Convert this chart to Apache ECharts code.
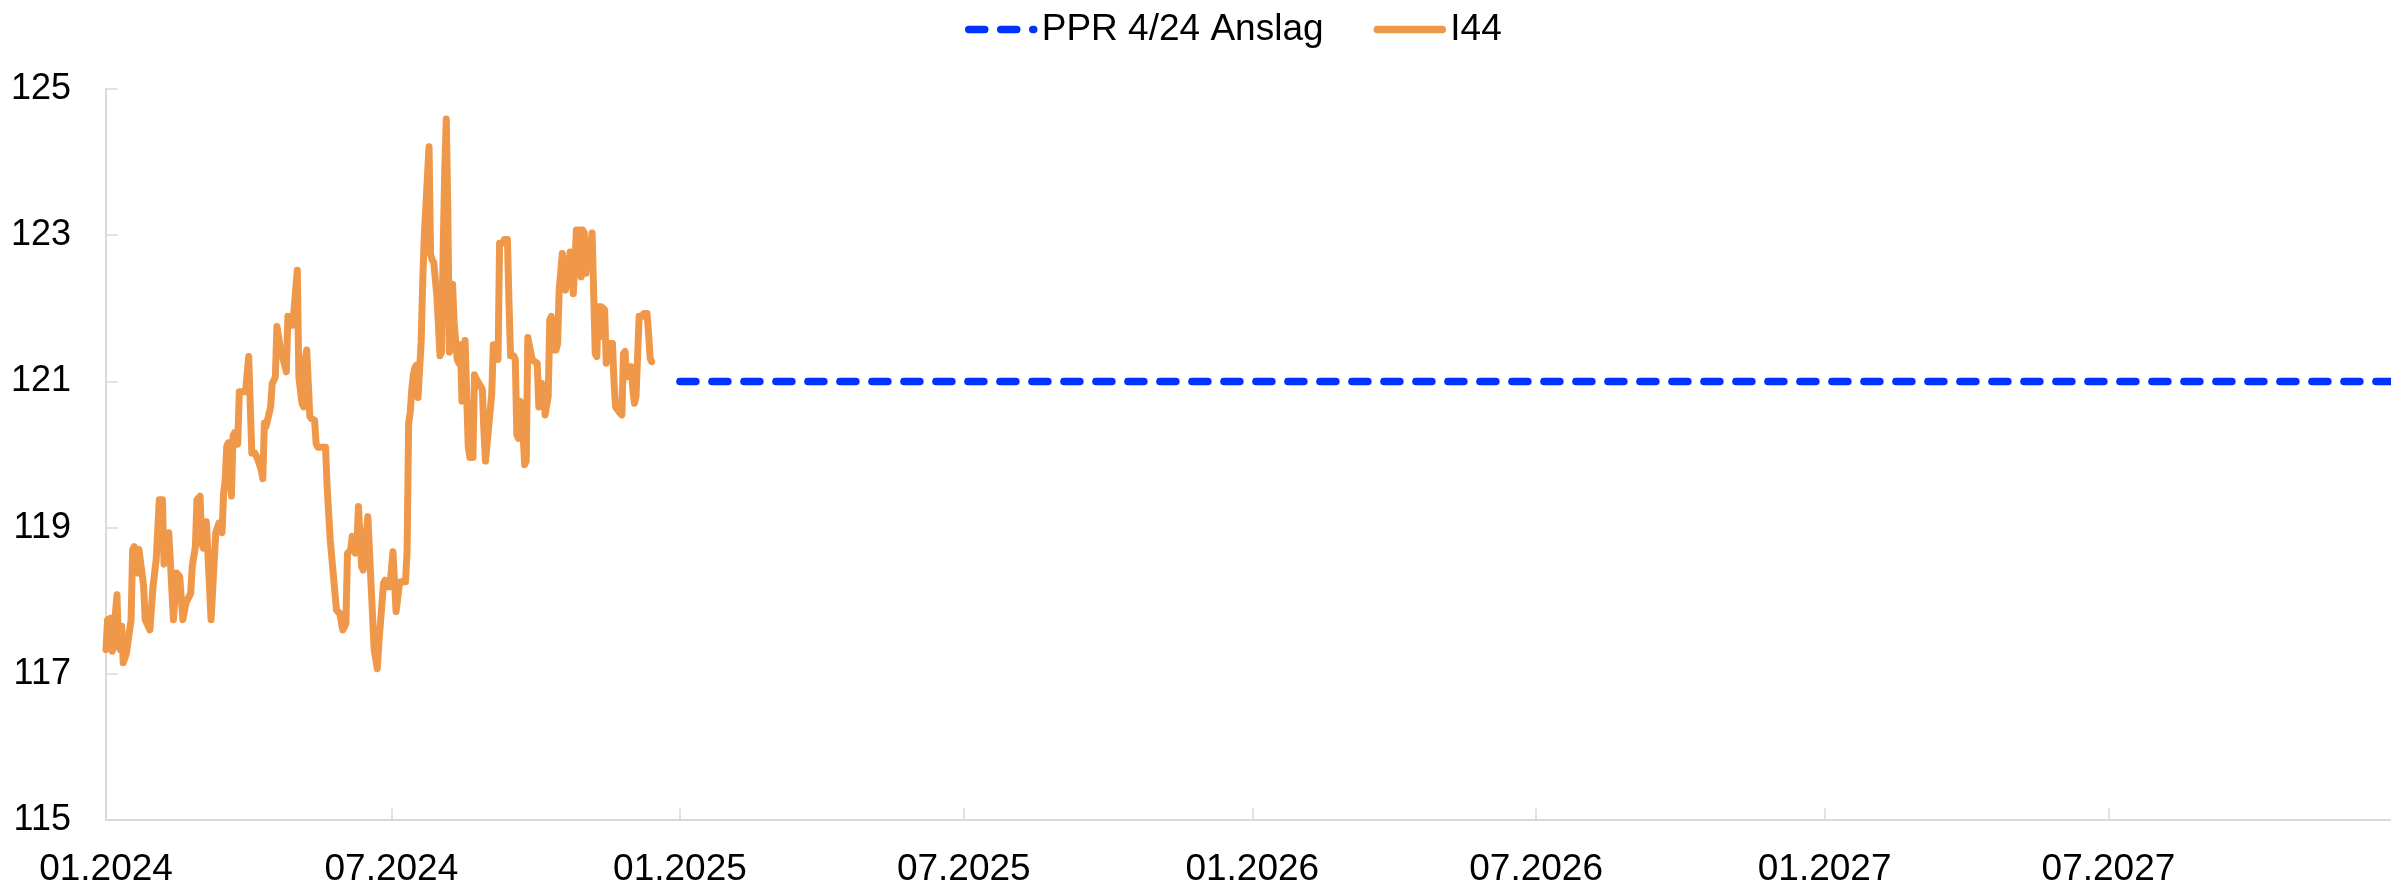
<!DOCTYPE html>
<html>
<head>
<meta charset="utf-8">
<script src="https://cdn.jsdelivr.net/npm/echarts@6/dist/echarts.min.js"></script>
<style>
html, body { margin: 0; padding: 0; background: #fff; }
#main { width: 2391px; height: 887px; }
</style>
</head>
<body>
<div id="main"></div>
<script>
// x-axis tick / label positions (01 and 07 each year)
var tickDates = ['2024-01-01', '2024-07-01', '2025-01-01', '2025-07-01',
                 '2026-01-01', '2026-07-01', '2027-01-01', '2027-07-01'];
var yTicks = [115, 117, 119, 121, 123, 125];

// I44, days counted from 1 January 2024
var i44Days = [
  0, 1, 3, 4, 5, 7, 8, 9, 10, 11,
  13, 16, 17, 18, 20, 21, 22, 24, 25, 28,
  30, 32, 34, 36, 37, 38, 40, 41, 43, 44,
  45, 47, 49, 50, 51, 54, 55, 57, 58, 60,
  61, 62, 64, 65, 67, 68, 70, 72, 74, 75,
  76, 77, 78, 80, 81, 82, 84, 85, 87, 89,
  91, 93, 95, 97, 99, 100, 101, 102, 103, 105,
  106, 108, 109, 110, 111, 112, 115, 116, 117, 119,
  120, 121, 122, 123, 125, 126, 127, 128, 129, 130,
  131, 133, 134, 135, 140, 141, 142, 143, 147, 149,
  150, 151, 152, 153, 154, 156, 157, 158, 159, 160,
  161, 162, 163, 164, 167, 168, 169, 171, 173, 174,
  175, 176, 177, 178, 179, 181, 183, 184, 185, 187,
  188, 191, 192, 193, 194, 195, 196, 197, 198, 199,
  200, 201, 202, 203, 204, 206, 207, 208, 209, 211,
  213, 214, 215, 216, 217, 218, 219, 220, 221, 222,
  224, 225, 226, 227, 228, 229, 231, 232, 234, 235,
  236, 240, 241, 242, 244, 246, 247, 248, 250, 251,
  253, 254, 256, 257, 258, 260, 261, 262, 263, 264,
  265, 267, 268, 269, 271, 272, 275, 276, 277, 278,
  279, 280, 282, 283, 284, 285, 287, 288, 289, 291,
  292, 293, 295, 296, 297, 298, 299, 300, 302, 303,
  304, 305, 306, 307, 309, 310, 311, 312, 313, 314,
  315, 316, 318, 319, 320, 321, 323, 324, 325, 327,
  329, 330, 331, 332, 334, 335, 336, 337, 338, 340,
  342, 343, 345, 346, 347, 348
];
var i44Values = [
  117.33, 117.74, 117.76, 117.31, 117.33, 118.08, 117.37, 117.33, 117.65, 117.15,
  117.28, 117.74, 118.70, 118.74, 118.38, 118.70, 118.72, 118.20, 117.74, 117.60,
  118.20, 118.56, 119.38, 119.38, 118.50, 118.54, 118.93, 118.56, 117.74, 117.74,
  118.38, 118.33, 117.74, 117.74, 117.97, 118.10, 118.47, 118.74, 119.38, 119.43,
  118.79, 118.72, 119.08, 119.06, 117.74, 117.72, 118.93, 119.06, 118.93, 119.47,
  119.65, 120.11, 120.16, 119.43, 120.25, 120.30, 120.14, 120.86, 120.86, 120.86,
  121.34, 120.02, 120.02, 119.92, 119.79, 119.67, 120.43, 120.38, 120.47, 120.65,
  120.97, 121.06, 121.75, 121.75, 121.48, 121.48, 121.13, 121.89, 121.91, 121.77,
  122.00, 122.02, 122.52, 121.06, 120.70, 120.65, 121.29, 121.43, 121.43, 120.52,
  120.49, 120.47, 120.15, 120.10, 120.10, 119.56, 119.54, 118.83, 117.87, 117.83,
  117.83, 117.60, 117.64, 117.69, 118.65, 118.69, 118.88, 118.88, 118.65, 118.78,
  119.29, 119.29, 118.47, 118.42, 119.15, 119.15, 118.24, 117.33, 117.07, 117.42,
  117.69, 117.71, 118.24, 118.28, 118.19, 118.19, 118.67, 118.67, 117.85, 118.21,
  118.26, 118.26, 118.67, 120.42, 120.58, 120.89, 121.09, 121.19, 121.22, 120.78,
  120.78, 121.55, 122.38, 123.00, 123.00, 124.21, 122.74, 122.66, 122.63, 122.17,
  121.35, 121.40, 122.79, 123.87, 124.59, 123.31, 121.40, 121.40, 122.33, 121.81,
  121.30, 121.25, 121.50, 120.73, 120.73, 121.56, 120.11, 119.96, 119.96, 121.09,
  121.04, 120.89, 120.32, 119.91, 120.37, 120.83, 121.50, 121.45, 121.30, 122.89,
  122.89, 122.94, 122.94, 122.07, 121.35, 121.35, 121.30, 120.27, 120.22, 120.73,
  120.68, 119.86, 119.91, 121.60, 121.38, 121.29, 121.25, 120.65, 120.65, 120.97,
  120.88, 120.54, 120.79, 121.84, 121.89, 121.43, 121.43, 121.52, 122.25, 122.75,
  122.30, 122.25, 122.57, 122.77, 122.52, 122.20, 122.18, 123.07, 123.07, 122.43,
  123.07, 123.03, 122.48, 122.91, 122.84, 123.03, 123.03, 121.38, 121.34, 122.02,
  121.61, 122.02, 121.98, 121.25, 121.25, 121.52, 121.52, 120.97, 120.65, 120.59,
  120.54, 121.38, 121.41, 121.06, 121.16, 121.20, 120.88, 120.70, 120.79, 121.89,
  121.89, 121.93, 121.93, 121.66, 121.32, 121.27
];

// PPR 4/24 forecast
var pprDates = ['2025-01-01', '2028-01-01'];
var pprValues = [121, 121];

var FONT = 'Liberation Sans, Arial, sans-serif';

function utc(s) {
    var p = s.split('-');
    return Date.UTC(+p[0], +p[1] - 1, +p[2]);
}
function pad(n) { return n < 10 ? '0' + n : '' + n; }

var i44Data = [];
for (var i = 0; i < Math.min(i44Days.length, i44Values.length); i++) {
    i44Data.push([Date.UTC(2024, 0, 1 + i44Days[i]), i44Values[i]]);
}
var pprData = pprDates.map(function (d, i) { return [utc(d), pprValues[i]]; });
var ticks = tickDates.map(utc);

var chart = echarts.init(document.getElementById('main'));

var option = {
    backgroundColor: '#fff',
    animation: false,
    textStyle: { fontFamily: FONT },
    legend: {
        top: 6,
        left: 960,
        itemWidth: 65,
        itemHeight: 14,
        itemGap: 50,
        lineStyle: { width: 7.5 },
        itemStyle: { opacity: 0 },   // line only, no marker in the icon
        textStyle: { fontSize: 37, color: '#000', fontFamily: FONT, padding: [0, 0, 0, 3] },
        data: ['PPR 4/24 Anslag', 'I44']
    },
    grid: {
        left: 106,
        right: -6,
        top: 89,
        bottom: 67,
        outerBoundsMode: 'none'
    },
    // timestamps on a plain value axis so the 6-month ticks sit exactly on the 1st
    xAxis: {
        type: 'value',
        min: utc('2024-01-01'),
        max: utc('2028-01-01'),
        axisLine: { lineStyle: { color: '#d9d9d9', width: 2 } },
        axisTick: {
            inside: true, length: 12, customValues: ticks,
            lineStyle: { color: '#d9d9d9', width: 1.5 }
        },
        axisLabel: {
            customValues: ticks,
            fontSize: 37,
            color: '#000',
            fontFamily: FONT,
            margin: 31,
            hideOverlap: false,
            showMinLabel: true,
            formatter: function (val) {
                var d = new Date(val);
                return pad(d.getUTCMonth() + 1) + '.' + d.getUTCFullYear();
            }
        },
        splitLine: { show: false }
    },
    yAxis: {
        type: 'value',
        min: yTicks[0],
        max: yTicks[yTicks.length - 1],
        interval: 2,
        axisLine: { show: true, lineStyle: { color: '#d9d9d9', width: 2 } },
        axisTick: { show: true, inside: true, length: 12, lineStyle: { color: '#d9d9d9', width: 1.5 } },
        axisLabel: { fontSize: 36, color: '#000', fontFamily: FONT, margin: 35 },
        splitLine: { show: false }
    },
    series: [
        {
            name: 'PPR 4/24 Anslag',
            type: 'line',
            data: pprData,
            symbol: 'none',
            lineStyle: { color: '#0033ff', width: 7.5, type: [16, 16], cap: 'round' },
            itemStyle: { color: '#0033ff' }
        },
        {
            name: 'I44',
            type: 'line',
            data: i44Data,
            symbol: 'none',
            lineStyle: { color: '#ef984a', width: 7, join: 'round', cap: 'round' },
            itemStyle: { color: '#ef984a' }
        }
    ]
};

chart.setOption(option);
</script>
</body>
</html>
